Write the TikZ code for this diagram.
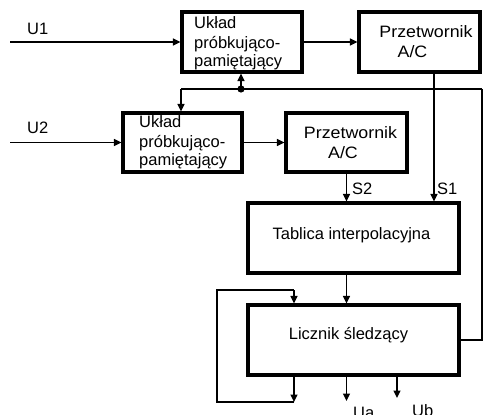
\documentclass[tikz,border=0pt]{standalone}
\usepackage{fontspec}
\setmainfont{Liberation Sans}
\usetikzlibrary{arrows.meta,calc}
\newcommand\dfs{\fontsize{16.5}{19}\selectfont}
\newcommand\wide[1]{\scalebox{1.08}[1]{#1}}
\tikzset{
  box/.style={draw, line width=3.2pt, inner sep=0pt},
  conn/.style={line width=1.5pt},
  arr/.style={conn, -{Triangle[length=7.5pt,width=7pt]}},
  lbl/.style={font=\dfs, inner sep=0pt, anchor=base west},
  clbl/.style={font=\dfs, inner sep=0pt, anchor=base},
}
\begin{document}
\begin{tikzpicture}[x=1pt,y=-1pt]
\useasboundingbox (0,0) rectangle (486,414);
% boxes
\node[box, minimum width=120pt, minimum height=60pt] (A) at (242,42) {};
\node[box, minimum width=121pt, minimum height=60pt] (B) at (419.5,42) {};
\node[box, minimum width=119pt, minimum height=59pt] (C) at (182.5,142.5) {};
\node[box, minimum width=121pt, minimum height=59pt] (D) at (346.5,142.5) {};
\node[box, minimum width=211pt, minimum height=70pt] (E) at (353.5,238) {};
\node[box, minimum width=211pt, minimum height=70pt] (F) at (353.5,340) {};
% texts
\node[lbl] (a1) at (194,29) {Układ};
\node[lbl] (a2) at (194,48.5) {próbkująco-};
\node[lbl] (a3) at (194,67) {pamiętający};
\node[clbl] (b1) at (426,38) {\wide{Przetwornik}};
\node[clbl] (b2) at (412.5,58) {\wide{A/C}};
\node[lbl] (c1) at (139,127.5) {Układ};
\node[lbl] (c2) at (139,147) {próbkująco-};
\node[lbl] (c3) at (139,165.5) {pamiętający};
\node[clbl] (d1) at (350.5,139) {\wide{Przetwornik}};
\node[clbl] (d2) at (343,158) {\wide{A/C}};
\node[clbl] (e1) at (351.5,239) {Tablica interpolacyjna};
\node[clbl] (f1) at (348.5,339) {Licznik śledzący};
\node[lbl] (u1) at (27,35) {U1};
\node[lbl] (u2) at (27,134) {U2};
\node[lbl] (s2) at (352,194) {S2};
\node[lbl] (s1) at (437,194) {S1};
\node[lbl] (la) at (353,418) {Ua};
\node[lbl] (lb) at (412,416) {Ub};
% coordinates
\coordinate (in1) at (10,42);
\coordinate (in2) at (10,142.5);
\coordinate (j) at (241,89);
\coordinate (bl) at (181,89);
\coordinate (br) at (482,89);
\coordinate (lpb) at (294,402);
\coordinate (lpl) at (217,402);
\coordinate (lpt) at (217,290);
\coordinate (lptr) at (294,290);
\coordinate (ua) at (346.5,401);
\coordinate (ub) at (397,398);
% connectors
\draw[arr] (in1) -- (A);
\draw[arr] (A) -- (B);
\draw[arr] ([xshift=14.5pt]B.south) -- ([xshift=14.5pt]B.south |- E.north);
\draw[conn] (bl) -- (br);
\draw[arr] (j) -- (j |- A.south);
\fill (j) circle (3.6pt);
\draw[arr] (bl) -- (bl |- C.north);
\draw[conn] (br) |- (F.east);
\draw[arr] (in2) -- (C);
\draw[arr] (C) -- (D);
\draw[arr] (D.south) -- (D.south |- E.north);
\draw[arr] (E.south -| D.south) -- (F.north -| D.south);
\draw[arr] (F.south -| ua) -- (ua);
\draw[arr] (F.south -| ub) -- (ub);
\draw[arr] (F.south -| lpb) -- (lpb);
\draw[conn] (lpb) -- (lpl) -- (lpt) -- (lptr);
\draw[arr] (lptr) -- (F.north -| lptr);
\end{tikzpicture}
\end{document}
